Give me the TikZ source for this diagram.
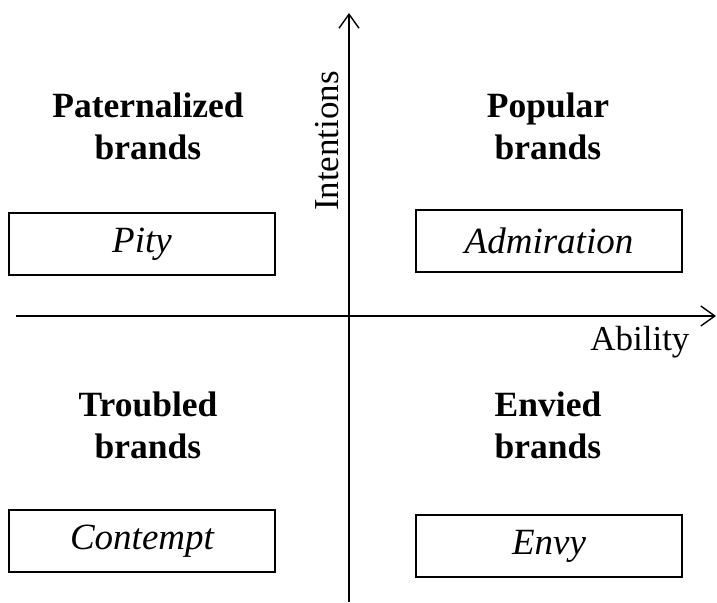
\documentclass[tikz,border=0pt]{standalone}
\usepackage{fontspec}
\setmainfont{Liberation Serif}
\usetikzlibrary{arrows.meta}
\begin{document}
\begin{tikzpicture}[x=1pt,y=-1pt,
  axis/.style={line width=1.4pt,-{Straight Barb[length=14pt,width=20pt,line width=1.4pt]}},
  emobox/.style={draw,line width=1.4pt,minimum width=266pt,minimum height=62pt,inner sep=0pt,font=\fontsize{37}{42}\selectfont\itshape},
  quad/.style={align=center,font=\fontsize{35.5}{42}\selectfont\bfseries}]
\useasboundingbox (0,0) rectangle (717,602);
\coordinate (vb) at (349,602);
\coordinate (vt) at (349,13);
\coordinate (hl) at (16,316);
\coordinate (hr) at (716,316);
\draw[axis] (vb) -- (vt);
\draw[axis] (hl) -- (hr);
\node[rotate=90,font=\fontsize{35}{40}\selectfont,anchor=south] (int) at (342,141) {Intentions};
\node[font=\fontsize{35}{40}\selectfont,anchor=base east] (abl) at (693,350) {Ability};
\node[quad] (pat) at (148,126) {Paternalized\\brands};
\node[quad] (pop) at (548,126) {Popular\\brands};
\node[quad] (tro) at (148,425) {Troubled\\brands};
\node[quad] (env) at (548,425) {Envied\\brands};
\node[emobox] (pity) at (142,244) {Pity};
\node[emobox] (adm) at (549,241) {Admiration};
\node[emobox] (con) at (142,541) {Contempt};
\node[emobox] (envy) at (549,546) {Envy};
\end{tikzpicture}
\end{document}
